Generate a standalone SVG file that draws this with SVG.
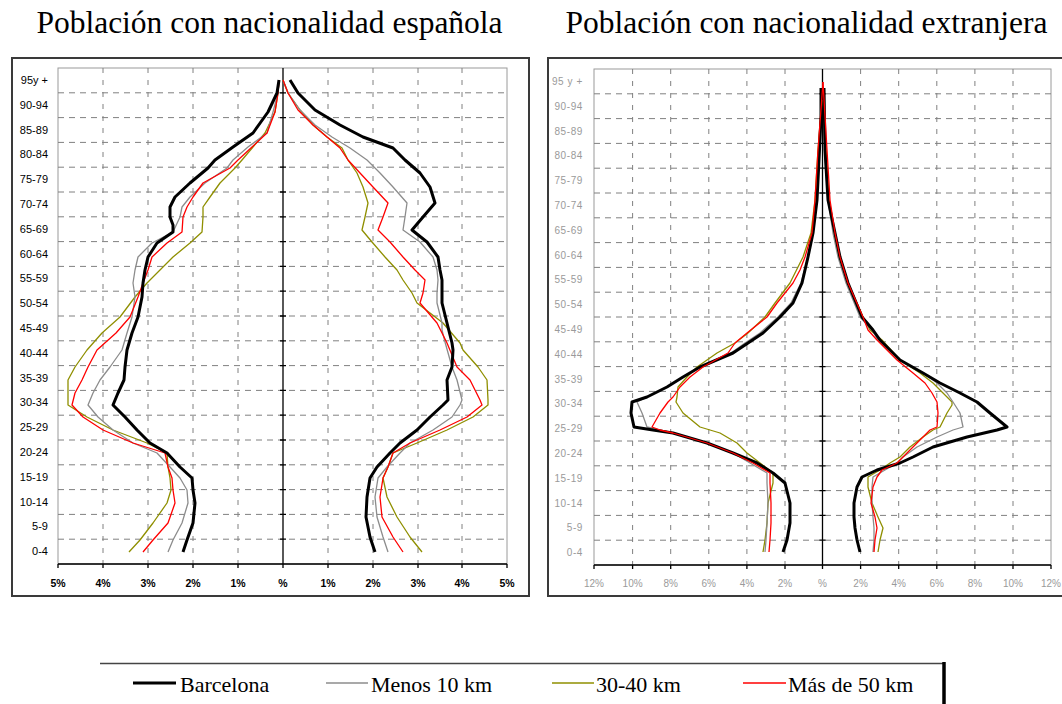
<svg xmlns="http://www.w3.org/2000/svg" width="1062" height="704" viewBox="0 0 1062 704">
<style>
.title{font-family:"Liberation Serif","Times New Roman",serif;font-size:31.5px;fill:#000;text-anchor:middle}
.frame{fill:#fff;stroke:#3a3a3a;stroke-width:2}
.plot{fill:#fff;stroke:#9a9a9a;stroke-width:1}
.hg{stroke:#808080;stroke-width:1;stroke-dasharray:6,5;fill:none}
.vg{stroke:#808080;stroke-width:1;stroke-dasharray:5,7;fill:none}
.ax{stroke:#000;stroke-width:1.3;fill:none}
.ylab{font-family:"Liberation Sans",Arial,sans-serif;font-size:11px;fill:#000;text-anchor:end}
.xlab{font-family:"Liberation Sans",Arial,sans-serif;font-size:10.5px;font-weight:bold;fill:#000;text-anchor:middle}
.ylab2{font-family:"Liberation Sans",Arial,sans-serif;font-size:10px;fill:#9a9a9a;text-anchor:end;letter-spacing:0.6px}
.xlab2{font-family:"Liberation Sans",Arial,sans-serif;font-size:10px;fill:#9a9a9a;text-anchor:middle}
.bcn{fill:none;stroke:#000;stroke-width:3;stroke-linejoin:round}
.m10{fill:none;stroke:#8c8c8c;stroke-width:1.3;stroke-linejoin:round}
.k30{fill:none;stroke:#8f8f00;stroke-width:1.3;stroke-linejoin:round}
.m50{fill:none;stroke:#ff0000;stroke-width:1.3;stroke-linejoin:round}
.leg{font-family:"Liberation Serif","Times New Roman",serif;font-size:22px;fill:#000}
</style>

<text class="title" x="269.5" y="33">Población con nacionalidad española</text>
<text class="title" x="806.5" y="33">Población con nacionalidad extranjera</text>

<g id="chart-espanola">
<rect class="frame" x="12" y="58" width="517" height="538"/>
<rect class="plot" x="58" y="68" width="449" height="496"/>
<path class="hg" d="M58 92.8H507M58 117.6H507M58 142.4H507M58 167.2H507M58 192H507M58 216.8H507M58 241.6H507M58 266.4H507M58 291.2H507M58 316H507M58 340.8H507M58 365.6H507M58 390.4H507M58 415.2H507M58 440H507M58 464.8H507M58 489.6H507M58 514.4H507M58 539.2H507"/>
<path class="vg" d="M103 68V564M148 68V564M193 68V564M238 68V564M328 68V564M373 68V564M418 68V564M462 68V564"/>
<path class="ax" d="M58 564H507M58 564v4M103 564v4M148 564v4M193 564v4M238 564v4M283 564v4M328 564v4M373 564v4M418 564v4M462 564v4M507 564v4M283 68V564"/>
<path class="ax" d="M280 92.8h6M280 117.6h6M280 142.4h6M280 167.2h6M280 192h6M280 216.8h6M280 241.6h6M280 266.4h6M280 291.2h6M280 316h6M280 340.8h6M280 365.6h6M280 390.4h6M280 415.2h6M280 440h6M280 464.8h6M280 489.6h6M280 514.4h6M280 539.2h6"/>
<g>
<text class="ylab" x="48" y="84">95y +</text>
<text class="ylab" x="48" y="108.8">90-94</text>
<text class="ylab" x="48" y="133.6">85-89</text>
<text class="ylab" x="48" y="158.4">80-84</text>
<text class="ylab" x="48" y="183.2">75-79</text>
<text class="ylab" x="48" y="208">70-74</text>
<text class="ylab" x="48" y="232.8">65-69</text>
<text class="ylab" x="48" y="257.6">60-64</text>
<text class="ylab" x="48" y="282.4">55-59</text>
<text class="ylab" x="48" y="307.2">50-54</text>
<text class="ylab" x="48" y="332">45-49</text>
<text class="ylab" x="48" y="356.8">40-44</text>
<text class="ylab" x="48" y="381.6">35-39</text>
<text class="ylab" x="48" y="406.4">30-34</text>
<text class="ylab" x="48" y="431.2">25-29</text>
<text class="ylab" x="48" y="456">20-24</text>
<text class="ylab" x="48" y="480.8">15-19</text>
<text class="ylab" x="48" y="505.6">10-14</text>
<text class="ylab" x="48" y="530.4">5-9</text>
<text class="ylab" x="48" y="555.2">0-4</text>
</g>
<g>
<text class="xlab" x="58" y="587">5%</text>
<text class="xlab" x="103" y="587">4%</text>
<text class="xlab" x="148" y="587">3%</text>
<text class="xlab" x="193" y="587">2%</text>
<text class="xlab" x="238" y="587">1%</text>
<text class="xlab" x="283" y="587">%</text>
<text class="xlab" x="328" y="587">1%</text>
<text class="xlab" x="373" y="587">2%</text>
<text class="xlab" x="418" y="587">3%</text>
<text class="xlab" x="462" y="587">4%</text>
<text class="xlab" x="507" y="587">5%</text>
</g>
<g id="series-espanola">
<polyline class="k30" points="279,80 278,93 275,112 265,133 253,147 242,160 235,168 220,183 210,197 203,207 203,217 202,232 190,243 173,257 160,270 147,283 135,297 120,317 102,333 87,350 75,367 68,380 68,393 68,405 87,417 113,430 147,443 167,453 168,467 170,478 171,490 167,503 153,523 140,540 129,552"/>
<polyline class="k30" points="283,80 288,93 300,110 313,125 327,137 342,148 348,160 357,173 363,187 368,203 365,217 362,230 372,242 385,257 397,270 403,280 412,293 417,303 443,323 460,343 463,350 478,367 487,380 488,400 488,405 473,417 447,430 417,443 393,453 388,467 383,478 387,497 397,517 410,537 422,552"/>
<polyline class="m10" points="279,80 278,93 273,112 267,133 248,147 233,160 227,168 205,183 190,197 182,207 180,217 173,232 152,243 138,257 135,270 133,283 135,297 132,317 127,333 122,350 110,367 100,380 93,393 88,405 98,417 113,430 133,443 157,453 170,467 180,478 187,490 188,503 182,523 173,540 168,552"/>
<polyline class="m10" points="283,80 288,93 300,110 315,125 332,137 350,148 367,160 380,173 393,187 407,203 405,217 403,230 420,242 433,257 437,270 438,280 437,293 437,303 442,323 442,330 445,342 452,367 457,380 462,400 460,405 452,417 433,430 410,443 400,453 387,467 378,478 375,497 377,517 383,537 388,552"/>
<polyline class="m50" points="279,80 278,93 275,112 267,133 252,147 238,160 230,168 203,183 193,197 187,207 183,217 182,232 167,243 152,257 148,270 143,283 138,297 130,317 116,333 97,350 88,367 82,380 75,393 72,405 83,417 103,430 133,443 165,453 168,467 172,478 173,490 175,503 168,523 153,540 143,552"/>
<polyline class="m50" points="283,80 288,93 298,110 313,125 327,137 340,148 348,160 360,173 373,187 388,203 383,217 378,230 390,242 403,257 415,270 425,280 423,293 420,303 437,323 447,343 457,367 470,380 480,400 482,405 467,417 440,430 410,443 393,453 388,467 383,478 380,497 382,517 393,537 403,552"/>
<polyline class="bcn" points="279,80 277,93 268,112 253,133 233,147 215,160 208,168 190,183 175,197 170,207 170,217 173,225 173,232 157,243 148,257 145,270 143,283 142,297 138,317 132,333 127,350 125,367 124,380 118,393 113,405 125,417 137,430 150,443 167,453 180,467 192,478 193,490 195,503 193,523 187,540 183,552"/>
<polyline class="bcn" points="290,80 298,93 315,110 340,125 363,137 393,148 405,160 420,173 430,187 435,203 423,217 412,230 427,242 438,257 440,270 442,280 442,293 442,303 447,323 452,343 453,350 452,367 447,380 448,400 443,405 430,417 417,430 400,443 390,453 377,467 370,478 367,497 366,517 370,537 375,552"/>
</g>
</g>

<g id="chart-extranjera">
<rect class="frame" x="548" y="58" width="520" height="538"/>
<rect class="plot" x="594" y="69" width="457" height="496"/>
<path class="hg" d="M594 93.8H1051M594 118.6H1051M594 143.4H1051M594 168.2H1051M594 193H1051M594 217.8H1051M594 242.6H1051M594 267.4H1051M594 292.2H1051M594 317H1051M594 341.8H1051M594 366.6H1051M594 391.4H1051M594 416.2H1051M594 441H1051M594 465.8H1051M594 490.6H1051M594 515.4H1051M594 540.2H1051"/>
<path class="vg" d="M632.6 69V565M670.7 69V565M708.8 69V565M746.9 69V565M785 69V565M860.6 69V565M898.7 69V565M936.8 69V565M974.9 69V565M1013 69V565"/>
<path class="ax" d="M594 565H1051M594 565v4M632.6 565v4M670.7 565v4M708.8 565v4M746.9 565v4M785 565v4M822.5 565v4M860.6 565v4M898.7 565v4M936.8 565v4M974.9 565v4M1013 565v4M1051 565v4M822.5 69V565"/>
<path class="ax" d="M819.5 93.8h6M819.5 118.6h6M819.5 143.4h6M819.5 168.2h6M819.5 193h6M819.5 217.8h6M819.5 242.6h6M819.5 267.4h6M819.5 292.2h6M819.5 317h6M819.5 341.8h6M819.5 366.6h6M819.5 391.4h6M819.5 416.2h6M819.5 441h6M819.5 465.8h6M819.5 490.6h6M819.5 515.4h6M819.5 540.2h6"/>
<g>
<text class="ylab2" x="583" y="85">95 y +</text>
<text class="ylab2" x="583" y="109.8">90-94</text>
<text class="ylab2" x="583" y="134.6">85-89</text>
<text class="ylab2" x="583" y="159.4">80-84</text>
<text class="ylab2" x="583" y="184.2">75-79</text>
<text class="ylab2" x="583" y="209">70-74</text>
<text class="ylab2" x="583" y="233.8">65-69</text>
<text class="ylab2" x="583" y="258.6">60-64</text>
<text class="ylab2" x="583" y="283.4">55-59</text>
<text class="ylab2" x="583" y="308.2">50-54</text>
<text class="ylab2" x="583" y="333">45-49</text>
<text class="ylab2" x="583" y="357.8">40-44</text>
<text class="ylab2" x="583" y="382.6">35-39</text>
<text class="ylab2" x="583" y="407.4">30-34</text>
<text class="ylab2" x="583" y="432.2">25-29</text>
<text class="ylab2" x="583" y="457">20-24</text>
<text class="ylab2" x="583" y="481.8">15-19</text>
<text class="ylab2" x="583" y="506.6">10-14</text>
<text class="ylab2" x="583" y="531.4">5-9</text>
<text class="ylab2" x="583" y="556.2">0-4</text>
</g>
<g>
<text class="xlab2" x="594" y="587">12%</text>
<text class="xlab2" x="632.6" y="587">10%</text>
<text class="xlab2" x="670.7" y="587">8%</text>
<text class="xlab2" x="708.8" y="587">6%</text>
<text class="xlab2" x="746.9" y="587">4%</text>
<text class="xlab2" x="785" y="587">2%</text>
<text class="xlab2" x="822.5" y="587">%</text>
<text class="xlab2" x="860.6" y="587">2%</text>
<text class="xlab2" x="898.7" y="587">4%</text>
<text class="xlab2" x="936.8" y="587">6%</text>
<text class="xlab2" x="974.9" y="587">8%</text>
<text class="xlab2" x="1013" y="587">10%</text>
<text class="xlab2" x="1051" y="587">12%</text>
</g>
<g id="series-extranjera">
<polyline class="k30" points="822,100 818,150 815,200 811,233 803,257 790,283 775,303 765,317 748,333 735,343 717,353 697,367 687,377 678,387 677,397 676,402 683,413 700,427 710,430 720,433 737,443 747,453 760,463 773,473 773,483 768,503 767,523 765,540 763,552"/>
<polyline class="k30" points="823,100 826,150 829,200 834,233 839,257 848,283 863,317 870,330 882,340 900,360 920,373 933,383 943,393 952,402 952,405 947,413 940,427 933,430 923,437 910,447 900,457 890,463 880,470 868,477 868,487 872,503 878,517 883,528 880,540 878,552"/>
<polyline class="m10" points="821,110 819,160 817,200 813,233 808,257 801,283 791,303 778,317 760,333 745,343 731,353 700,367 683,377 667,387 647,397 637,402 642,413 647,427 660,430 673,433 707,443 733,453 750,463 767,473 767,483 768,503 767,523 766,540 765,552"/>
<polyline class="m10" points="824,110 825,160 828,200 833,233 838,257 846,283 860,317 872,330 878,340 900,360 923,373 937,383 947,393 953,402 960,413 963,427 953,430 937,437 917,447 903,457 897,463 885,470 873,477 872,487 872,503 873,517 874,528 874,540 873,552"/>
<polyline class="bcn" points="821,88 821,117 819,160 817,200 813,233 808,257 802,283 793,303 780,317 763,333 748,343 733,353 700,367 683,377 667,387 647,397 632,402 631,413 634,427 653,430 673,433 707,443 733,453 757,463 773,473 785,483 790,503 790,523 787,540 783,552"/>
<polyline class="bcn" points="824,88 825,150 828,200 835,233 840,257 848,283 862,317 873,330 880,340 900,360 923,373 940,383 960,393 977,402 990,413 1007,427 997,430 967,437 933,447 913,457 900,463 877,470 862,477 857,487 854,503 854,517 855,528 857,540 860,552"/>
<polyline class="m50" points="823,82 818,150 815,200 812,233 805,257 800,270 793,283 777,303 767,317 747,333 735,343 728,353 703,367 690,377 680,387 673,397 668,402 660,413 652,427 660,430 673,433 707,443 733,453 753,463 770,473 770,483 771,503 771,523 770,540 769,552"/>
<polyline class="m50" points="823,82 827,150 830,200 835,233 840,257 848,283 863,317 868,330 877,340 897,360 913,373 925,383 932,393 937,402 938,413 937,427 930,430 923,437 913,447 903,457 897,463 882,470 877,477 873,487 871,503 875,517 877,528 875,540 874,552"/>
</g>
</g>

<g id="legend">
<path d="M100 663.5H944" stroke="#444" stroke-width="1.5" fill="none"/>
<path d="M944 662V706" stroke="#000" stroke-width="3.5" fill="none"/>
<g id="legend-barcelona"><line x1="133" y1="683" x2="176" y2="683" class="bcn"/><text class="leg" x="180" y="692">Barcelona</text></g>
<g id="legend-menos10"><line x1="326" y1="683" x2="368" y2="683" class="m10" stroke-width="2.5"/><text class="leg" x="371" y="692">Menos 10 km</text></g>
<g id="legend-3040"><line x1="552" y1="683" x2="594" y2="683" class="k30" stroke-width="2.5"/><text class="leg" x="596" y="692">30-40 km</text></g>
<g id="legend-mas50"><line x1="743" y1="683" x2="786" y2="683" class="m50" stroke-width="2.5"/><text class="leg" x="788" y="692">Más de 50 km</text></g>
</g>
</svg>
